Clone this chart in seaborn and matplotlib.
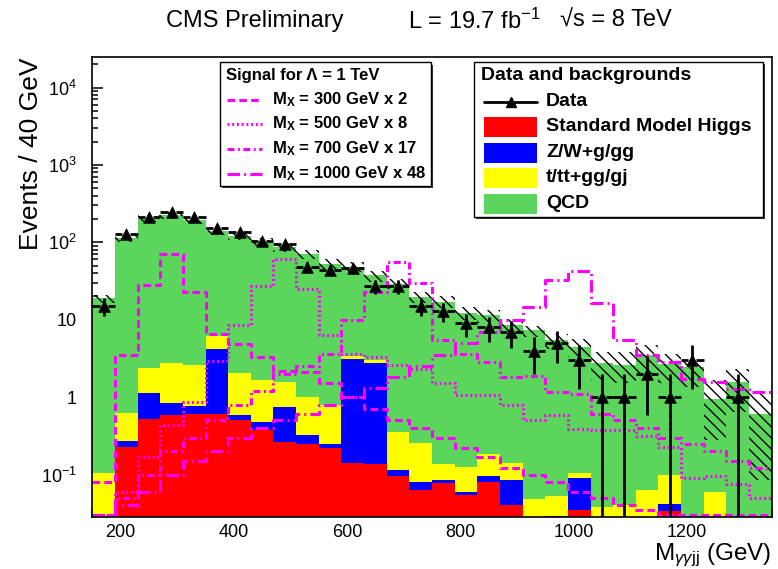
import numpy as np
import pandas as pd
import matplotlib
matplotlib.use("Agg")
import matplotlib.pyplot as plt
from matplotlib.patches import Rectangle
from matplotlib.lines import Line2D
from matplotlib.ticker import MultipleLocator, FixedLocator, LogLocator, NullFormatter, FixedFormatter
import seaborn as sns

# ---------------------------------------------------------------- data
# 40 GeV bins from 150 to 1350 GeV
bin_edges = list(range(150, 1351, 40))

# background contributions per bin (events / 40 GeV)
smh = [0, 0.23, 0.525, 0.58, 0.60, 0.60, 0.51, 0.38, 0.26, 0.25,
       0.22, 0.14, 0.135, 0.097, 0.063, 0.077, 0.054, 0.079, 0.040, 0,
       0, 0.035, 0, 0, 0, 0.034, 0, 0, 0, 0]
zw = [0, 0.045, 0.605, 0.26, 0.16, 3.6, 0.07, 0.10, 0.48, 0.07,
      0.03, 2.93, 2.615, 0.016, 0.016, 0.007, 0.006, 0.016, 0.044, 0,
      0.029, 0.055, 0, 0, 0, 0.008, 0, 0, 0, 0]
ttbar = [0.104, 0.345, 1.27, 1.91, 1.81, 1.9, 1.46, 1.16, 0.82, 0.68,
         0.53, 0.29, 0.23, 0.24, 0.175, 0.051, 0.064, 0.09, 0.056, 0.048,
         0.023, 0.014, 0.038, 0.040, 0.064, 0.058, 0, 0.06, 0, 0]
qcd = [18.7, 112.4, 200.6, 221.2, 190.4, 134.9, 119.0, 99.4, 84.4, 69.0,
       52.2, 44.6, 34.5, 28.6, 19.4, 16.9, 12.1, 11.2, 8.36, 7.25,
       5.35, 4.3, 2.71, 2.53, 3.4, 2.6, 2.45, 0.89, 1.56, 0.61]

# total background uncertainty band (lower / upper edge)
band_low = [16.5, 100, 182, 200, 172, 126, 108, 90, 76, 60,
            45, 41, 31, 25, 16.5, 14, 10, 9.2, 6.8, 6.0,
            4.2, 3.3, 1.64, 1.5, 2.0, 1.5, 1.35, 0.28, 0.64, 0.084]
band_high = [21.0, 126, 225, 250, 215, 157, 135, 113, 97, 79,
             61, 55, 43, 34, 22.5, 20, 14.5, 13.5, 10.3, 8.4,
             6.5, 5.7, 3.8, 3.8, 4.66, 3.6, 2.84, 1.64, 2.33, 1.16]

# observed events
data = [15, 128, 213, 243, 210, 155, 135, 103, 96, 48,
        44, 46, 27, 27, 15, 13, 9, 8, 7, 4,
        5, 3, 1, 1, 2, 1, 3, 0, 1, 0]

# signal expectations (already scaled), Lambda = 1 TeV
sig_300 = [0.08, 3.46, 27.8, 70, 22.8, 6.6, 4.9, 3.3, 2.2, 2.1,
           1.5, 1.0, 0.7, 0.5, 0.4, 0.3, 0.22, 0.17, 0.12, 0.1,
           0.08, 0.06, 0.05, 0.04, 0.035, 0.03, 0.03, 0.03, 0.03, 0.03]
sig_500 = [0.03, 0.06, 0.17, 0.44, 0.86, 2.9, 8.5, 27, 60, 25,
           6.3, 3.6, 3.3, 2.57, 2.33, 1.5, 1.05, 1.05, 0.8, 0.5,
           0.58, 0.39, 0.38, 0.38, 0.31, 0.23, 0.09, 0.095, 0.076, 0.05]
sig_700 = [0.03, 0.05, 0.1, 0.2, 0.3, 0.5, 0.8, 1.2, 2.0, 2.5,
           3.6, 9.8, 22.8, 56, 29.8, 5.5, 3.6, 2.84, 1.8, 1.9,
           1.16, 1.1, 0.6, 0.5, 0.4, 0.3, 0.25, 0.2, 0.15, 0.12]
sig_1000 = [0.03, 0.04, 0.06, 0.1, 0.15, 0.2, 0.3, 0.4, 0.5, 0.6,
            0.8, 1.0, 1.3, 1.8, 2.5, 3.5, 5, 7, 10, 14.6,
            33, 42.6, 16.6, 5.4, 3.5, 2.8, 1.7, 1.56, 1.28, 1.16]

signal_labels = ["300 GeV x 2", "500 GeV x 8", "700 GeV x 17", "1000 GeV x 48"]
background_labels = ["Standard Model Higgs", "Z/W+g/gg", "t/tt+gg/gj", "QCD"]

# ---------------------------------------------------------------- style
sns.set_theme(style="ticks", rc={
    "axes.edgecolor": "black", "axes.linewidth": 1.2,
    "xtick.color": "black", "ytick.color": "black",
    "text.color": "black", "axes.labelcolor": "black",
})
plt.rcParams["font.family"] = ["Liberation Sans", "DejaVu Sans"]
plt.rcParams["mathtext.fontset"] = "custom"
plt.rcParams["mathtext.rm"] = "Liberation Sans"
plt.rcParams["mathtext.it"] = "Liberation Sans:italic"
plt.rcParams["mathtext.bf"] = "Liberation Sans:bold"
plt.rcParams["hatch.linewidth"] = 1.0
plt.rcParams["hatch.color"] = "black"
plt.rcParams["lines.scale_dashes"] = False

C_RED, C_BLUE, C_YEL, C_GRN, C_MAG = "#ff0000", "#0000ff", "#ffff00", "#5bd55b", "#ff00ff"
SIG_STYLES = [(0, (5.5, 3)), (0, (1.4, 2.0)), (0, (5, 2.5, 1.4, 2.5)), (0, (9, 3, 1.4, 3))]

W, H = 778, 569
fig = plt.figure(figsize=(W / 100, H / 100), dpi=100)
ax_l, ax_r, ax_t, ax_b = 92.3, 771.7, 56.7, 517.3
ax = fig.add_axes([ax_l / W, 1 - ax_b / H, (ax_r - ax_l) / W, (ax_b - ax_t) / H])
ax.set_yscale("log")

edges = np.array(bin_edges, dtype=float)
centers = (edges[:-1] + edges[1:]) / 2


def hist_frame(values):
    return pd.DataFrame({"mass": centers, "events": np.asarray(values, dtype=float)})


# stacked backgrounds: draw cumulative levels from the top down
levels = np.cumsum(np.array([smh, zw, ttbar, qcd], dtype=float), axis=0)
for lev, col in zip(levels[::-1], [C_GRN, C_YEL, C_BLUE, C_RED]):
    sns.histplot(data=hist_frame(lev), x="mass", weights="events", bins=bin_edges,
                 element="step", fill=True, color=col, alpha=1, linewidth=0, ax=ax, zorder=1)

# background uncertainty band
ax.stairs(band_high, edges, baseline=band_low, fill=True, facecolor="none",
          edgecolor="black", hatch="\\\\\\", linewidth=0, zorder=2)

# signal hypotheses
for sig, ls in zip([sig_300, sig_500, sig_700, sig_1000], SIG_STYLES):
    sns.histplot(data=hist_frame(sig), x="mass", weights="events", bins=bin_edges,
                 element="step", fill=False, color=C_MAG, linewidth=2.2, linestyle=ls,
                 ax=ax, zorder=3)

# observed data with sqrt(N) errors
d = np.array(data, dtype=float)
m = d > 0
err = np.sqrt(d[m])
ax.vlines(centers[m], np.maximum(d[m] - err, 1e-4), d[m] + err, color="black", lw=2, zorder=4)
gap = 7
ax.hlines(d[m], edges[:-1][m], centers[m] - gap, color="black", lw=2, zorder=4)
ax.hlines(d[m], centers[m] + gap, edges[1:][m], color="black", lw=2, zorder=4)
sns.scatterplot(x=centers[m], y=d[m], marker="^", s=70, color="black",
                edgecolor="black", linewidth=0.5, ax=ax, zorder=5)

# axes
ax.set_xlim(150, 1350)
ax.set_ylim(0.028, 2.5e4)
ax.set_xlabel("")
ax.set_ylabel("")
ax.xaxis.set_major_locator(MultipleLocator(200))
ax.xaxis.set_minor_locator(MultipleLocator(50))
yt = [0.1, 1, 10, 100, 1000, 10000]
ax.yaxis.set_major_locator(FixedLocator(yt))
ax.yaxis.set_major_formatter(FixedFormatter(
    [r"10$^{\mathrm{-1}}$", "1", "10", r"10$^{\mathrm{2}}$", r"10$^{\mathrm{3}}$", r"10$^{\mathrm{4}}$"]))
ax.yaxis.set_minor_locator(LogLocator(base=10, subs=np.arange(2, 10), numticks=30))
ax.yaxis.set_minor_formatter(NullFormatter())
ax.tick_params(which="both", direction="in", top=False, right=False, width=1.1)
ax.tick_params(axis="x", which="major", length=9.5, pad=4.5, labelsize=13)
ax.tick_params(axis="x", which="minor", length=5)
ax.tick_params(axis="y", which="major", length=8, pad=11, labelsize=13)
ax.tick_params(axis="y", which="minor", length=4.5)
for sp in ax.spines.values():
    sp.set_zorder(10)


def fx(x):
    return x / W


def fy(y):
    return 1 - y / H


# title line
fig.text(fx(166), fy(21), "CMS Preliminary", fontsize=17, va="center", ha="left")
fig.text(fx(408), fy(21), r"L = 19.7 fb$^{\mathrm{-1}}$", fontsize=17, va="center", ha="left")
fig.text(fx(560), fy(21), "\u221as = 8 TeV", fontsize=17, va="center", ha="left")

# axis titles
fig.text(fx(31), fy(57), "Events / 40 GeV", fontsize=19, rotation=90, ha="center", va="top")
fig.text(fx(771), fy(555.5), r"M$_{\gamma\gamma\mathrm{jj}}$ (GeV)", fontsize=17.5, ha="right", va="center")


def legend_box(x0, y0, x1, y1):
    fig.add_artist(Rectangle((fx(x0 + 2), fy(y1 + 2)), fx(x1 - x0), (y1 - y0) / H,
                             transform=fig.transFigure, facecolor="#333333", edgecolor="none", zorder=20))
    fig.add_artist(Rectangle((fx(x0), fy(y1)), fx(x1 - x0), (y1 - y0) / H,
                             transform=fig.transFigure, facecolor="white", edgecolor="black",
                             linewidth=1.0, zorder=21))


# signal legend
legend_box(219.5, 62.5, 430.5, 186)
fig.text(fx(226), fy(75.5), "Signal for \u039b = 1 TeV", fontsize=12, fontweight="bold",
         va="center", ha="left", zorder=22)
for i, (lab, ls) in enumerate(zip(signal_labels, SIG_STYLES)):
    yy = [100, 124, 149, 174][i]
    fig.add_artist(Line2D([fx(226.5), fx(262)], [fy(yy), fy(yy)], color=C_MAG, lw=2.2,
                          linestyle=ls, transform=fig.transFigure, zorder=22))
    fig.text(fx(271.5), fy(yy), r"$\mathbf{M_X}$ = " + lab, fontsize=12, fontweight="bold",
             va="center", ha="left", zorder=22)

# background legend
legend_box(474, 62, 763, 217)
fig.text(fx(481), fy(75.5), "Data and backgrounds", fontsize=14, fontweight="bold",
         va="center", ha="left", zorder=22)
fig.add_artist(Line2D([fx(484), fx(537)], [fy(101.5), fy(101.5)], color="black", lw=2,
                      transform=fig.transFigure, zorder=22))
fig.add_artist(Line2D([fx(510.5)], [fy(101.5)], color="black", marker="^", markersize=7,
                      linestyle="none", transform=fig.transFigure, zorder=23))
fig.text(fx(546), fy(101.5), "Data", fontsize=14, fontweight="bold", va="center", ha="left", zorder=22)
for i, (lab, col) in enumerate(zip(background_labels, [C_RED, C_BLUE, C_YEL, C_GRN])):
    yy = [126.5, 152.5, 178, 203.5][i]
    fig.add_artist(Rectangle((fx(484), fy(yy + 10)), fx(53), 20 / H, transform=fig.transFigure,
                             facecolor=col, edgecolor="none", zorder=22))
    fig.text(fx(546), fy(yy), lab, fontsize=14, fontweight="bold", va="center", ha="left", zorder=22)

fig.savefig("out.png", dpi=100)
